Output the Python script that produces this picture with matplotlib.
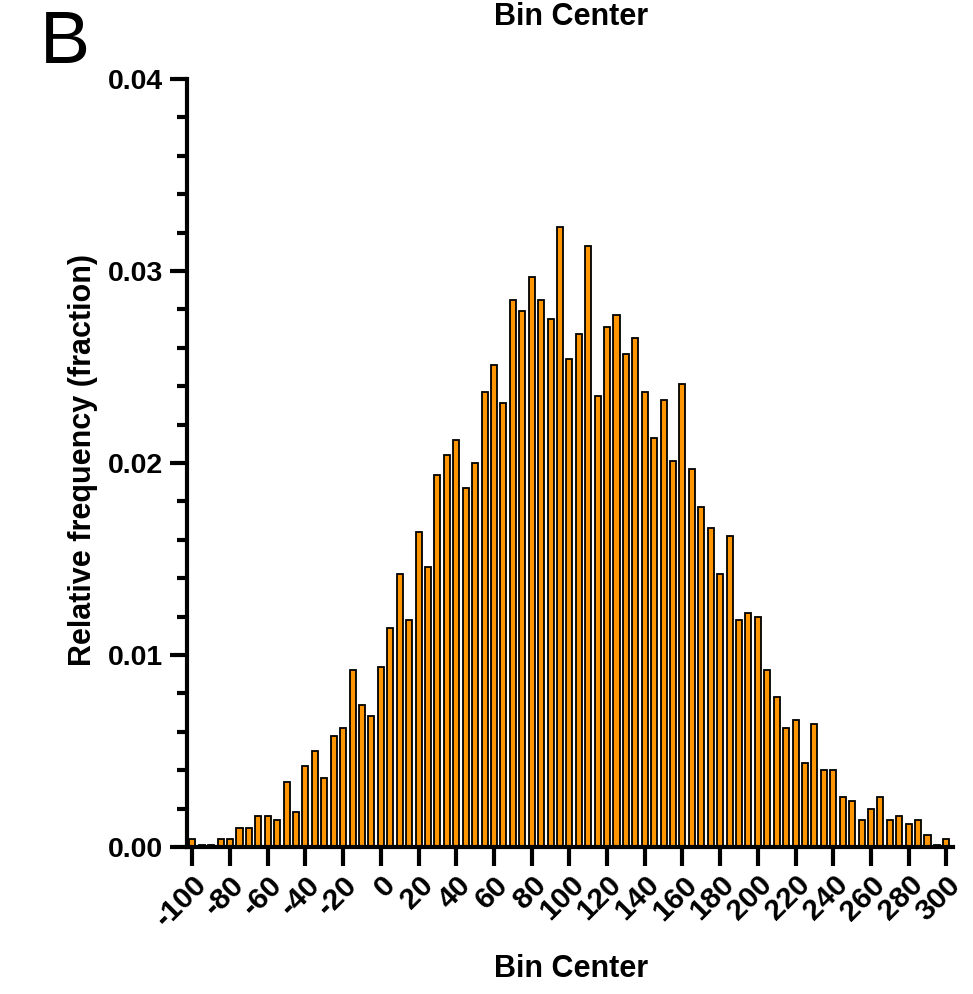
import matplotlib
matplotlib.use("Agg")
import matplotlib.pyplot as plt
from matplotlib.ticker import MultipleLocator
import numpy as np

plt.rcParams['font.family'] = ['Liberation Sans', 'DejaVu Sans']

bin_centers = list(range(-100, 301, 5))
rel_freq = [
    0.0004, 0.0001, 0.0001, 0.0004, 0.0004, 0.0010, 0.0010, 0.0016, 0.0016, 0.0014,
    0.0034, 0.0018, 0.0042, 0.0050, 0.0036, 0.0058, 0.0062, 0.0092, 0.0074, 0.0068,
    0.0094, 0.0114, 0.0142, 0.0118, 0.0164, 0.0146, 0.0194, 0.0204, 0.0212, 0.0187,
    0.0200, 0.0237, 0.0251, 0.0231, 0.0285, 0.0279, 0.0297, 0.0285, 0.0275, 0.0323,
    0.0254, 0.0267, 0.0313, 0.0235, 0.0271, 0.0277, 0.0257, 0.0265, 0.0237, 0.0213,
    0.0233, 0.0201, 0.0241, 0.0197, 0.0177, 0.0166, 0.0142, 0.0162, 0.0118, 0.0122,
    0.0120, 0.0092, 0.0078, 0.0062, 0.0066, 0.0044, 0.0064, 0.0040, 0.0040, 0.0026,
    0.0024, 0.0014, 0.0020, 0.0026, 0.0014, 0.0016, 0.0012, 0.0014, 0.0006, 0.0001,
    0.0004,
]
x_ticks = list(range(-100, 301, 20))
y_ticks = [0.00, 0.01, 0.02, 0.03, 0.04]

fig = plt.figure(figsize=(9.73, 9.94), dpi=100)
ax = fig.add_axes([0.1919, 0.1479, 0.7875, 0.7726])

ax.bar(bin_centers, rel_freq, width=3.2, color='#FF9500', edgecolor='black',
       linewidth=1.3, zorder=2)

ax.set_xlim(-103, 303.5)
ax.set_ylim(0, 0.04)

for s in ['top', 'right']:
    ax.spines[s].set_visible(False)
for s in ['left', 'bottom']:
    ax.spines[s].set_linewidth(3.0)
    ax.spines[s].set_color('black')

ax.set_xticks(x_ticks)
ax.set_xticklabels([str(t) for t in x_ticks], rotation=45, ha='right', va='top',
                   rotation_mode='anchor', fontsize=21.5, fontweight='bold')
ax.set_yticks(y_ticks)
ax.set_yticklabels([f"{t:.2f}" for t in y_ticks], fontsize=20.5, fontweight='bold')
ax.yaxis.set_minor_locator(MultipleLocator(0.002))

ax.tick_params(axis='x', which='major', length=14, width=3.0, pad=3)
ax.tick_params(axis='y', which='major', length=12, width=3.0, pad=5)
ax.tick_params(axis='y', which='minor', length=7, width=3.0)

fig.text(0.5874, 0.0171, 'Bin Center', ha='center', va='baseline',
         fontsize=22, fontweight='bold')
fig.text(0.5874, 0.9748, 'Bin Center', ha='center', va='baseline',
         fontsize=22, fontweight='bold')
fig.text(0.0853, 0.5372, 'Relative frequency (fraction)', ha='center', va='center',
         rotation=90, fontsize=22, fontweight='bold')
fig.text(0.041, 0.9366, 'B', ha='left', va='baseline', fontsize=54)

fig.savefig('out.png', dpi=100)
